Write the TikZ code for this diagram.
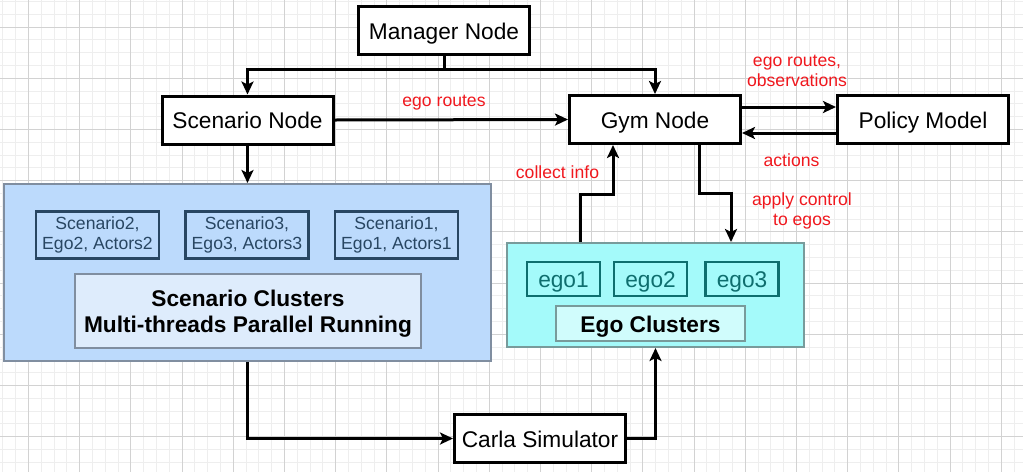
\documentclass[tikz,border=0pt]{standalone}
\usepackage{fontspec}
\setmainfont{Liberation Sans}
\usetikzlibrary{positioning,arrows.meta}
\definecolor{lblred}{RGB}{240,24,30}
\definecolor{scfill}{RGB}{188,218,252}
\definecolor{sctitlefill}{RGB}{222,236,252}
\definecolor{scline}{RGB}{128,142,160}
\definecolor{scdark}{RGB}{40,70,98}
\definecolor{egofill}{RGB}{164,250,250}
\definecolor{egotitlefill}{RGB}{208,252,252}
\definecolor{egoline}{RGB}{120,155,155}
\definecolor{egodark}{RGB}{14,110,110}
\definecolor{gridmajor}{RGB}{210,210,210}
\definecolor{gridminor}{RGB}{238,238,238}
\tikzset{
  mainbox/.style={draw, line width=3pt, fill=white, minimum width=171pt, minimum height=48pt, inner sep=0pt, text height=19.6pt, text depth=2pt, font=\fontsize{22.7}{26}\selectfont},
  lbl/.style={text=lblred, align=center, font=\fontsize{17.6}{20.5}\selectfont},
  flow/.style={->, line width=3pt},
  cluster/.style={draw, line width=2pt, inner sep=0pt},
  scbox/.style={draw=scdark, line width=2.5pt, fill=scfill, text=scdark, align=center, inner sep=0pt, minimum width=123pt, minimum height=47pt, font=\fontsize{17.6}{20.7}\selectfont},
  egobox/.style={draw=egodark, line width=2.5pt, fill=egofill, text=egodark, inner sep=0pt, minimum width=73pt, minimum height=34pt, text height=19.6pt, text depth=2pt, font=\fontsize{22.7}{26}\selectfont},
  titlebox/.style={draw, line width=2pt, inner sep=0pt, align=center, font=\fontsize{22.7}{26.7}\selectfont\bfseries}
}
\begin{document}
\begin{tikzpicture}[x=1pt, y=-1pt, > = {Stealth[length=13pt, width=12pt, inset=3pt]}]
\useasboundingbox (0,0) rectangle (1023,472);
\fill[white] (0,0) rectangle (1023,472);
\foreach \i in {0,...,79} \draw[gridminor, line width=1pt] ({2.9+12.8*\i},0) -- ++(0,472);
\foreach \i in {0,...,36} \draw[gridminor, line width=1pt] (0,{1.4+12.8*\i}) -- ++(1023,0);
\foreach \i in {0,...,19} \draw[gridmajor, line width=1pt] ({28.5+51.2*\i},0) -- ++(0,472);
\foreach \i in {0,...,8} \draw[gridmajor, line width=1pt] (0,{27+51.2*\i}) -- ++(1023,0);

\node (manager) [mainbox] at (444,30.5) {Manager Node};
\node (scenario) [mainbox] at (247.5,120) {Scenario Node};
\node (gym) [mainbox] at (655,119.5) {Gym Node};
\node (policy) [mainbox] at (923,119.5) {Policy Model};
\node (carla) [mainbox] at (540,438.5) {Carla Simulator};

\node (sccluster) [cluster, draw=scline, fill=scfill, minimum width=487pt, minimum height=177pt] at (247.5,272.5) {};
\node (sc2) [scbox] at (97.5,235) {Scenario2,\\Ego2, Actors2};
\node (sc3) [scbox, right=24pt of sc2] {Scenario3,\\Ego3, Actors3};
\node (sc1) [scbox, right=24pt of sc3] {Scenario1,\\Ego1, Actors1};
\node (sctitle) [titlebox, draw=scline, fill=sctitlefill, minimum width=346pt, minimum height=74pt] at (248,311) {\rule{0pt}{22pt}Scenario Clusters\\Multi-threads Parallel Running};

\node (egocluster) [cluster, draw=egoline, fill=egofill, minimum width=297pt, minimum height=104pt] at (655.5,295) {};
\node (ego1) [egobox] at (563.5,279) {ego1};
\node (ego2) [egobox] at (650.5,279) {ego2};
\node (ego3) [egobox] at (742,279) {ego3};
\node (egotitle) [titlebox, draw=egoline, fill=egotitlefill, minimum width=189pt, minimum height=35pt, text height=19.6pt, text depth=2pt] at (650.5,323.5) {Ego Clusters};

\coordinate (split) at (444,69);
\draw[flow] (manager.south) -- (split) -| (scenario.north);
\draw[flow] (split) -| (gym.north);
\draw[flow] (scenario.east) -- (gym.west);
\draw[flow] (scenario.south) -- (sccluster.north);
\draw[flow] ([yshift=12.5pt]gym.east) -- ([yshift=12.5pt]policy.west);
\draw[flow] ([yshift=-13.5pt]policy.west) -- ([yshift=-13.5pt]gym.east);
\draw[flow] ([xshift=-75.5pt]egocluster.north) -- ++(0,-48) -| ([xshift=-42pt]gym.south);
\draw[flow] ([xshift=44pt]gym.south) -- ++(0,48) -| ([xshift=75.5pt]egocluster.north);
\draw[flow] (sccluster.south) |- (carla.west);
\draw[flow] (carla.east) -| (egocluster.south);

\node (lblroutes) [lbl] at (444,103) {ego routes};
\node (lblobs) [lbl] at (797,71) {ego routes,\\observations};
\node (lblactions) [lbl] at (791.5,160) {actions};
\node (lblcollect) [lbl] at (557.5,172) {collect info};
\node (lblapply) [lbl] at (802,211) {apply control\\to egos};
\end{tikzpicture}
\end{document}
